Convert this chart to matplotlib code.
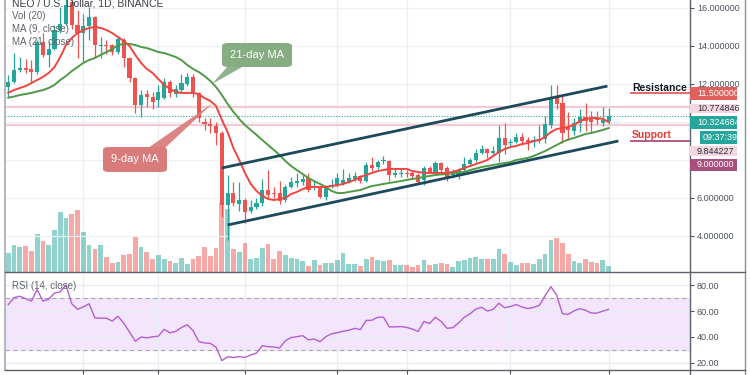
import matplotlib
matplotlib.use('Agg')
import matplotlib.pyplot as plt
from matplotlib.patches import Rectangle, FancyBboxPatch, Polygon
from matplotlib.lines import Line2D
import numpy as np

plt.rcParams['font.family'] = ['Liberation Sans', 'DejaVu Sans']

# daily NEO/USD candles
opens = [11.84, 12.10, 12.74, 12.84, 12.79, 12.65, 14.20, 13.50, 13.84, 14.84,
         15.16, 16.30, 15.10, 14.68, 15.05, 15.53, 14.00, 14.05, 14.05, 13.70,
         14.30, 13.37, 12.30, 10.90, 11.47, 11.30, 11.16, 11.26, 12.10, 11.47,
         11.68, 12.00, 12.37, 11.53, 10.00, 9.90, 9.80, 9.42, 5.63, 6.26,
         5.68, 5.90, 5.32, 5.53, 5.74, 6.42, 6.26, 6.26, 5.90, 6.58,
         6.80, 6.84, 7.05, 6.50, 6.55, 6.07, 6.60, 6.68, 6.80, 6.86,
         6.98, 7.16, 6.90, 7.74, 7.65, 7.95, 7.95, 7.20, 7.26, 7.30,
         7.30, 7.20, 6.95, 7.56, 7.38, 7.82, 7.56, 7.21, 7.21, 7.47,
         7.79, 8.00, 8.38, 8.56, 8.38, 8.38, 9.14, 8.88, 8.96, 9.20,
         9.05, 8.96, 9.00, 9.09, 9.84, 11.30, 10.98, 9.75, 9.53, 9.96,
         10.25, 10.20, 10.20, 9.95, 10.07]
highs = [12.47, 13.63, 13.42, 13.30, 13.26, 14.30, 14.68, 14.20, 15.10, 16.05,
         16.60, 16.80, 15.90, 15.70, 16.05, 15.60, 14.47, 14.30, 14.10, 14.50,
         14.40, 13.40, 12.37, 11.68, 11.68, 11.60, 11.95, 12.30, 12.20, 11.95,
         12.50, 12.60, 12.50, 11.60, 10.20, 10.20, 10.00, 9.50, 7.20, 6.84,
         6.84, 6.00, 5.90, 6.00, 7.00, 7.47, 6.60, 6.90, 6.70, 7.10,
         7.30, 7.20, 7.30, 6.90, 6.60, 6.70, 7.00, 7.30, 7.50, 7.30,
         7.35, 7.20, 7.90, 8.17, 8.00, 8.20, 8.00, 7.60, 7.50, 7.45,
         7.40, 7.30, 7.70, 7.70, 7.95, 7.90, 7.70, 7.50, 7.60, 8.17,
         8.10, 8.60, 8.80, 8.65, 8.75, 9.84, 9.96, 9.10, 9.40, 9.44,
         9.20, 9.25, 9.84, 10.30, 11.95, 11.95, 11.42, 10.54, 10.20, 10.68,
         10.98, 10.60, 10.60, 10.80, 10.74]
lows = [11.32, 12.05, 12.63, 12.60, 12.10, 12.55, 13.42, 12.90, 13.80, 14.70,
        15.10, 14.90, 13.36, 13.15, 14.30, 13.42, 13.37, 13.60, 13.50, 13.60,
        12.90, 12.10, 10.47, 10.26, 10.80, 10.70, 10.79, 11.20, 11.30, 11.30,
        11.60, 11.90, 11.30, 10.00, 9.60, 9.40, 8.80, 5.00, 3.80, 5.60,
        5.30, 4.70, 5.20, 5.40, 5.60, 6.00, 6.00, 5.70, 5.80, 6.50,
        6.60, 6.70, 6.30, 6.40, 6.00, 5.90, 6.50, 6.60, 6.70, 6.80,
        6.90, 6.80, 6.85, 7.40, 7.50, 7.80, 6.90, 7.10, 7.10, 7.10,
        7.00, 6.75, 6.70, 7.30, 7.30, 7.35, 6.90, 7.05, 7.00, 7.35,
        7.70, 7.90, 8.30, 8.10, 8.20, 7.90, 8.30, 8.70, 8.90, 8.80,
        8.53, 8.70, 8.90, 8.90, 9.70, 10.70, 8.90, 9.05, 9.30, 9.49,
        9.50, 9.42, 9.90, 9.80, 9.90]
closes = [12.10, 12.74, 12.84, 12.74, 12.63, 14.23, 13.50, 13.84, 14.84, 15.16,
          16.16, 15.10, 14.68, 15.05, 15.53, 14.05, 14.05, 14.00, 13.70, 14.37,
          13.37, 12.30, 10.90, 11.42, 11.30, 11.05, 11.58, 12.10, 11.53, 11.74,
          12.05, 12.37, 11.58, 10.20, 9.90, 9.80, 9.42, 5.63, 6.26, 5.74,
          5.90, 5.26, 5.53, 5.74, 6.42, 6.16, 6.20, 5.84, 6.58, 6.84,
          6.90, 7.00, 6.42, 6.60, 6.07, 6.60, 6.68, 7.04, 6.95, 7.04,
          7.16, 6.90, 7.74, 7.60, 7.90, 8.00, 7.20, 7.30, 7.30, 7.25,
          7.16, 6.86, 7.56, 7.38, 7.82, 7.47, 7.12, 7.38, 7.47, 7.79,
          8.00, 8.35, 8.56, 8.35, 8.49, 9.17, 8.79, 8.96, 9.20, 9.02,
          8.96, 9.05, 9.10, 9.90, 11.25, 10.95, 9.44, 9.58, 9.96, 10.28,
          10.07, 10.00, 10.10, 10.10, 10.324684]
volume = [19.5, 27.5, 25.5, 26.5, 21.5, 38.5, 31.5, 27.5, 42.5, 60.5,
          54.5, 58.5, 62.5, 40.5, 27.5, 23.5, 27.5, 15.5, 9.5, 10.5,
          17.5, 18.5, 35.5, 25.5, 20.5, 13.5, 17.5, 13.5, 11.5, 9.5,
          14.5, 8.5, 13.5, 16.5, 25.5, 16.5, 24.5, 69.5, 63.5, 23.5,
          20.5, 29.5, 13.5, 14.5, 24.5, 28.5, 13.5, 21.5, 17.5, 14.5,
          13.5, 11.5, 6.5, 12.5, 7.5, 9.5, 9.5, 12.5, 19.5, 8.5,
          8.5, 6.5, 13.5, 15.5, 12.5, 11.5, 12.5, 7.5, 7.5, 7.5,
          5.5, 7.5, 12.5, 7.5, 8.5, 9.5, 8.5, 5.5, 11.5, 12.5,
          14.5, 15.5, 13.5, 13.5, 13.5, 23.5, 18.5, 10.5, 7.5, 9.5,
          9.5, 8.5, 13.5, 18.5, 32.5, 34.5, 29.5, 18.5, 11.5, 9.5,
          13.5, 10.5, 9.5, 12.5, 6.5]
ma9 = [11.54, 11.68, 11.79, 11.89, 12.05, 12.21, 12.37, 12.58, 12.89, 13.42,
       14.05, 14.42, 14.68, 14.84, 14.95, 15.00, 14.95, 14.84, 14.68, 14.47,
       14.26, 14.00, 13.53, 13.11, 12.79, 12.58, 12.26, 11.95, 11.74, 11.58,
       11.53, 11.53, 11.53, 11.47, 11.26, 11.11, 10.84, 10.11, 9.47, 8.63,
       8.00, 7.32, 6.74, 6.37, 6.11, 5.95, 5.89, 5.95, 6.00, 6.21,
       6.32, 6.47, 6.58, 6.58, 6.58, 6.58, 6.63, 6.68, 6.74, 6.84,
       6.95, 7.11, 7.21, 7.32, 7.42, 7.47, 7.53, 7.53, 7.53, 7.53,
       7.42, 7.37, 7.32, 7.32, 7.32, 7.32, 7.32, 7.37, 7.47, 7.58,
       7.68, 7.79, 7.89, 8.00, 8.21, 8.42, 8.58, 8.68, 8.74, 8.84,
       8.89, 9.00, 9.05, 9.21, 9.47, 9.63, 9.68, 9.74, 9.84, 10.05,
       10.16, 10.21, 10.21, 10.16, 10.00]
ma21 = [11.28, 11.34, 11.42, 11.47, 11.53, 11.61, 11.68, 11.79, 11.95, 12.21,
        12.42, 12.68, 12.89, 13.11, 13.26, 13.37, 13.53, 13.68, 13.84, 14.05,
        14.11, 14.11, 14.05, 13.95, 13.89, 13.79, 13.68, 13.63, 13.53, 13.42,
        13.26, 13.00, 12.79, 12.63, 12.42, 12.16, 11.84, 11.42, 10.95, 10.53,
        10.16, 9.84, 9.58, 9.32, 9.05, 8.79, 8.53, 8.26, 7.95, 7.68,
        7.47, 7.26, 7.05, 6.89, 6.74, 6.58, 6.37, 6.26, 6.26, 6.32,
        6.37, 6.42, 6.53, 6.63, 6.68, 6.74, 6.79, 6.84, 6.89, 6.95,
        7.00, 7.05, 7.11, 7.16, 7.21, 7.24, 7.26, 7.32, 7.34, 7.37,
        7.47, 7.55, 7.63, 7.68, 7.74, 7.79, 7.84, 7.89, 8.00, 8.05,
        8.11, 8.21, 8.34, 8.47, 8.63, 8.79, 8.95, 9.08, 9.16, 9.26,
        9.37, 9.42, 9.50, 9.58, 9.68]
rsi = [65.0, 70.3, 71.4, 69.5, 67.7, 76.5, 67.7, 69.1, 73.8, 74.9,
       80.0, 65.6, 61.3, 63.2, 65.6, 54.7, 54.5, 54.5, 52.2, 56.0,
       50.6, 43.8, 36.7, 39.9, 39.3, 40.1, 40.6, 45.9, 43.2, 44.3,
       47.3, 49.4, 44.9, 36.4, 35.4, 35.0, 32.1, 21.7, 24.8, 24.1,
       24.8, 24.2, 26.1, 27.6, 33.2, 32.5, 32.3, 31.5, 37.1, 39.5,
       40.2, 41.0, 37.8, 38.4, 36.4, 40.2, 42.4, 43.3, 44.4, 45.2,
       46.6, 45.7, 52.7, 52.9, 55.2, 55.2, 47.7, 47.8, 48.0, 47.4,
       46.1, 44.2, 51.9, 50.4, 55.2, 51.9, 46.7, 47.1, 50.8, 55.2,
       57.9, 61.5, 62.9, 60.0, 61.3, 66.0, 62.5, 63.5, 65.0, 63.1,
       61.9, 62.7, 64.4, 71.8, 78.8, 72.2, 57.9, 57.4, 60.1, 61.8,
       60.6, 58.4, 58.4, 59.9, 61.3]

price_ticks = [4, 6, 8, 10, 12, 14, 16]
hidden_ticks = [8, 10]   # covered by the price labels on the scale
rsi_ticks = [20, 40, 60, 80]
grid_days = [13, 26, 41, 57, 69, 87, 104]

# drawn channel + levels
upper_x = [37, 103.8]
upper_y = [7.58, 11.89]
lower_x = [38, 105.7]
lower_y = [4.58, 9.0]
resistance = 11.5
support = 9.0
level_start = 107.7
last_price = 10.324684
day_high = 10.774846
day_low = 9.844227

UP = '#26a69a'
DOWN = '#ef5350'
W, H = 750, 375

fig = plt.figure(figsize=(7.5, 3.75), dpi=100)
fig.patch.set_facecolor('white')


def box(x0, y0, x1, y1):
    return [x0 / W, 1 - y1 / H, (x1 - x0) / W, (y1 - y0) / H]


ax_vol = fig.add_axes(box(5, 0, 690, 272))
ax = fig.add_axes(box(5, 0, 690, 272))
ax_rsi = fig.add_axes(box(5, 272, 690, 370))
ax.set_facecolor('none')

idx = np.arange(len(closes))
o = np.array(opens)
c = np.array(closes)
cols = [UP if cc >= oo else DOWN for oo, cc in zip(o, c)]

xlim = (-0.57, 118.1)
for a in (ax, ax_vol, ax_rsi):
    a.set_xlim(*xlim)
    for s in a.spines.values():
        s.set_visible(False)

# volume
ax_vol.bar(idx, volume, width=0.82, color=cols, alpha=0.5, zorder=2)
ax_vol.set_ylim(0, 272)
for d in grid_days:
    ax_vol.axvline(d, color='#e9eef4', lw=0.9, zorder=0)
ax_vol.set_xticks([])
ax_vol.set_yticks([])

# price grid
for p in price_ticks:
    ax.axhline(p, color='#edf1f6', lw=0.9, zorder=0)

ax.axhline(day_high, color='#f3c9d3', lw=1.6, zorder=1)
ax.axhline(day_low, color='#f3c9d3', lw=1.6, zorder=1)
ax.axhline(last_price, color=UP, lw=0.8, ls=(0, (1, 1.5)), zorder=1)

# candles
ax.vlines(idx, lows, highs, colors=cols, lw=0.9, zorder=3)
body = np.maximum(np.abs(c - o), 0.06)
ax.bar(idx, body, bottom=np.minimum(o, c), width=0.72, color=cols, zorder=4)

ax.plot(idx, ma21, color='#4f9a45', lw=1.4, zorder=5)
ax.plot(idx, ma9, color='#f0453e', lw=1.4, zorder=5)

ax.plot(upper_x, upper_y, color='#1d4a5a', lw=2, zorder=6, solid_capstyle='butt')
ax.plot(lower_x, lower_y, color='#1d4a5a', lw=2, zorder=6, solid_capstyle='butt')
ax.hlines(resistance, level_start, xlim[1], color='#e0605d', lw=1.3, zorder=6)
ax.hlines(support, level_start, xlim[1], color='#a84f7d', lw=1.3, zorder=6)

ax.set_ylim(2.105, 16.42)
ax.yaxis.tick_right()
ax.set_yticks(price_ticks)
ax.set_yticklabels(['' if p in hidden_ticks else '%.6f' % p for p in price_ticks])
ax.tick_params(axis='y', length=3, pad=2, labelsize=6.5, labelcolor='#4c525e', color='#4c525e')
ax.tick_params(axis='x', bottom=False, labelbottom=False)

# RSI
ax_rsi.axhspan(30, 70, color='#f3e5fc', zorder=0)
for r in rsi_ticks:
    ax_rsi.axhline(r, color='#e6ebf2', lw=0.9, zorder=0)
for d in grid_days:
    ax_rsi.axvline(d, color='#e9eef4', lw=0.9, zorder=0)
ax_rsi.axhline(70, color='#a8a8a8', lw=0.8, ls=(0, (4, 3)), zorder=1)
ax_rsi.axhline(30, color='#a8a8a8', lw=0.8, ls=(0, (4, 3)), zorder=1)
ax_rsi.plot(idx, rsi, color='#b25fcf', lw=1.0, zorder=3)
ax_rsi.set_ylim(14.5, 90.1)
ax_rsi.yaxis.tick_right()
ax_rsi.set_yticks(rsi_ticks)
ax_rsi.set_yticklabels(['%.2f' % r for r in rsi_ticks])
ax_rsi.tick_params(axis='y', length=3, pad=2, labelsize=6.5, labelcolor='#4c525e', color='#4c525e')
ax_rsi.set_xticks(grid_days)
ax_rsi.tick_params(axis='x', length=3, labelbottom=False, color='#4c525e')

# frame lines
def fline(x0, y0, x1, y1, color='#5d6068', lw=1.0):
    fig.add_artist(Line2D([x0 / W, x1 / W], [1 - y0 / H, 1 - y1 / H],
                          transform=fig.transFigure, color=color, lw=lw, zorder=3))

fline(5, 0, 5, 370, color='#b6b9bf', lw=1.5)
fline(690, 0, 690, 375)
fline(745, 0, 745, 375, color='#8d9097')
fline(5, 272, 745, 272)
fline(5, 370, 745, 370)

# legend texts
fig.text(12 / W, 1 - 6 / H, 'NEO / U.S. Dollar, 1D, BINANCE', fontsize=7.5,
         color='#3a3d45', va='baseline')
for y, t in [(16, 'Vol (20)'), (29, 'MA (9, close)'), (42, 'MA (21, close)')]:
    fig.text(12 / W, 1 - y / H, t, fontsize=7, color='#60636b', va='center')
fig.text(12 / W, 1 - 286 / H, 'RSI (14, close)', fontsize=7, color='#60636b', va='center')

# price scale labels
side_labels = [
    ('11.500000', 690, 87, 737, 100, '#e0605d', 'white'),
    ('10.774846', 690, 104, 737, 113, '#f3d6df', '#2b2e36'),
    ('10.324684', 690, 116, 737, 129, UP, 'white'),
    ('09:37:39', 700, 131, 737, 144, UP, 'white'),
    ('9.844227', 690, 146, 737, 156, '#f3d6df', '#2b2e36'),
    ('9.000000', 690, 159, 737, 171, '#a84f7d', 'white'),
]
for txt, x0, y0, x1, y1, fc, tc in side_labels:
    fig.add_artist(Rectangle((x0 / W, 1 - y1 / H), (x1 - x0) / W, (y1 - y0) / H,
                             transform=fig.transFigure, facecolor=fc, edgecolor='none', zorder=5))
    if x0 == 690:
        fline(690, (y0 + y1) / 2, 694, (y0 + y1) / 2, color=tc, lw=0.8)
    fig.text((x0 + 7) / W if x0 == 690 else (x0 + 3) / W, 1 - (y0 + y1) / 2 / H, txt,
             fontsize=6.5, color=tc, va='center', ha='left', zorder=6)

# level captions
fig.text(632 / W, 1 - 88 / H, 'Resistance', fontsize=7.5, fontweight='bold',
         color='#131722', va='center')
fig.text(632 / W, 1 - 135 / H, 'Support', fontsize=7.5, fontweight='bold',
         color='#e53935', va='center')

# callouts
def callout(x0, y0, x1, y1, tail, color, text):
    fig.add_artist(Polygon([(px / W, 1 - py / H) for px, py in tail], closed=True,
                           transform=fig.transFigure, facecolor=color, edgecolor='none',
                           alpha=0.92, zorder=7))
    fig.add_artist(FancyBboxPatch((x0 / W, 1 - y1 / H), (x1 - x0) / W, (y1 - y0) / H,
                                  boxstyle='round,pad=0,rounding_size=0.008',
                                  transform=fig.transFigure, facecolor=color,
                                  edgecolor='none', zorder=7))
    fig.text((x0 + x1) / 2 / W, 1 - (y0 + y1) / 2 / H, text, fontsize=8, color='white',
             ha='center', va='center', zorder=8)

callout(222, 43, 292, 67, [(228, 66), (244, 66), (212, 84)], '#86ad82', '21-day MA')
callout(103, 147, 167, 172, [(148, 148), (165, 148), (213, 103)], '#d97b7b', '9-day MA')

fig.savefig('out.png', dpi=100)
